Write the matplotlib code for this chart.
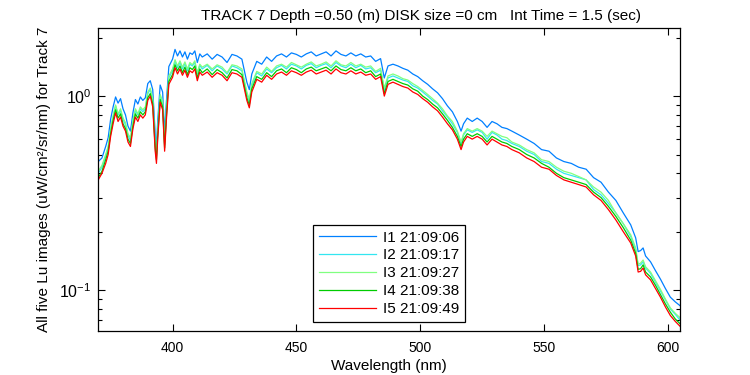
import matplotlib
matplotlib.use('Agg')
import matplotlib.pyplot as plt
from matplotlib.ticker import LogLocator, NullFormatter, FixedLocator

plt.rcParams['font.family'] = ['Liberation Sans', 'DejaVu Sans']
plt.rcParams['mathtext.fontset'] = 'custom'
plt.rcParams['mathtext.rm'] = 'Liberation Sans'
plt.rcParams['mathtext.it'] = 'Liberation Sans:italic'
plt.rcParams['mathtext.default'] = 'regular'

# wavelength (nm)
wavelength = [370, 371.5, 373, 374, 375, 376, 377, 378, 379, 380, 381, 382, 383, 384, 385, 386, 387, 388, 389,
              390, 391, 392, 393, 393.5, 394, 395, 396, 396.8, 397.5, 398.5, 400, 401, 402, 403, 404, 405, 406,
              407, 408, 409, 410, 411, 412, 414, 416, 418, 420, 422, 424, 426, 428, 430, 431, 432, 434, 436,
              438, 440, 442, 444, 446, 448, 450, 452, 454, 456, 458, 460, 462, 464, 466, 468, 470, 472, 474,
              476, 478, 480, 482, 484, 485.5, 487, 489, 491, 493, 495, 497, 499, 501, 503, 505, 507, 509, 511,
              513, 515, 516.5, 517.5, 519, 521, 523, 525, 527, 529, 531, 533, 535, 537, 540, 543, 546, 549,
              552, 555, 558, 561, 564, 567, 570, 573, 576, 579, 582, 585, 587, 588, 589, 590, 591, 593, 595,
              597, 599, 601, 603, 605]

lu_1 = [0.46, 0.48, 0.55, 0.61, 0.76, 0.88, 0.99, 0.92, 0.97, 0.86, 0.80, 0.70, 0.66, 0.82, 0.96, 0.91, 0.99, 0.95, 0.98,
        1.16, 1.20, 1.08, 0.64, 0.55, 0.74, 1.14, 1.05, 0.64, 0.93, 1.42, 1.55, 1.74, 1.61, 1.71, 1.59, 1.69, 1.55,
        1.67, 1.64, 1.71, 1.49, 1.65, 1.59, 1.65, 1.55, 1.64, 1.59, 1.49, 1.64, 1.61, 1.55, 1.18, 1.08, 1.30, 1.51, 1.46,
        1.59, 1.51, 1.61, 1.65, 1.59, 1.67, 1.64, 1.59, 1.65, 1.69, 1.61, 1.65, 1.69, 1.61, 1.71, 1.64, 1.61, 1.67, 1.61,
        1.65, 1.59, 1.61, 1.51, 1.56, 1.24, 1.43, 1.46, 1.43, 1.39, 1.36, 1.30, 1.26, 1.20, 1.15, 1.09, 1.04, 0.97, 0.89,
        0.83, 0.74, 0.66, 0.72, 0.77, 0.74, 0.77, 0.74, 0.69, 0.74, 0.72, 0.69, 0.68, 0.66, 0.63, 0.60, 0.57, 0.53,
        0.52, 0.48, 0.46, 0.45, 0.43, 0.42, 0.38, 0.36, 0.32, 0.29, 0.25, 0.217, 0.186, 0.158, 0.160, 0.165, 0.150, 0.140, 0.126,
        0.114, 0.102, 0.092, 0.087, 0.083]

lu_2 = [0.40, 0.43, 0.49, 0.54, 0.67, 0.78, 0.89, 0.80, 0.84, 0.76, 0.71, 0.63, 0.59, 0.73, 0.84, 0.80, 0.86, 0.83, 0.86,
        1.03, 1.08, 0.95, 0.56, 0.49, 0.65, 1.00, 0.92, 0.56, 0.81, 1.24, 1.35, 1.51, 1.40, 1.49, 1.38, 1.47, 1.35,
        1.46, 1.43, 1.49, 1.30, 1.44, 1.38, 1.44, 1.35, 1.43, 1.38, 1.30, 1.43, 1.40, 1.35, 1.03, 0.94, 1.13, 1.32, 1.27,
        1.38, 1.32, 1.40, 1.44, 1.38, 1.46, 1.43, 1.38, 1.44, 1.47, 1.40, 1.44, 1.47, 1.40, 1.49, 1.43, 1.40, 1.46, 1.40,
        1.44, 1.38, 1.40, 1.32, 1.36, 1.08, 1.24, 1.27, 1.24, 1.21, 1.19, 1.13, 1.10, 1.05, 1.00, 0.95, 0.91, 0.84, 0.78,
        0.72, 0.65, 0.57, 0.63, 0.67, 0.65, 0.67, 0.65, 0.60, 0.65, 0.63, 0.60, 0.59, 0.57, 0.55, 0.52, 0.50, 0.46,
        0.45, 0.42, 0.40, 0.39, 0.38, 0.37, 0.33, 0.31, 0.28, 0.25, 0.22, 0.189, 0.162, 0.134, 0.135, 0.140, 0.130, 0.122, 0.110,
        0.099, 0.089, 0.080, 0.075, 0.070]

lu_3 = [0.41, 0.44, 0.50, 0.55, 0.68, 0.79, 0.90, 0.81, 0.86, 0.77, 0.73, 0.64, 0.61, 0.75, 0.86, 0.81, 0.88, 0.85, 0.88,
        1.05, 1.10, 0.97, 0.57, 0.50, 0.66, 1.02, 0.94, 0.57, 0.83, 1.27, 1.38, 1.54, 1.43, 1.52, 1.41, 1.50, 1.38,
        1.49, 1.45, 1.52, 1.32, 1.46, 1.41, 1.46, 1.38, 1.45, 1.41, 1.32, 1.45, 1.43, 1.38, 1.05, 0.96, 1.16, 1.34, 1.30,
        1.41, 1.34, 1.43, 1.46, 1.41, 1.49, 1.45, 1.41, 1.46, 1.50, 1.43, 1.46, 1.50, 1.43, 1.52, 1.45, 1.43, 1.49, 1.43,
        1.46, 1.41, 1.43, 1.34, 1.39, 1.10, 1.27, 1.30, 1.27, 1.23, 1.21, 1.16, 1.12, 1.07, 1.02, 0.97, 0.92, 0.86, 0.79,
        0.74, 0.66, 0.58, 0.64, 0.68, 0.66, 0.68, 0.66, 0.62, 0.66, 0.64, 0.62, 0.61, 0.58, 0.56, 0.53, 0.51, 0.47,
        0.46, 0.43, 0.41, 0.40, 0.385, 0.37, 0.34, 0.32, 0.29, 0.25, 0.22, 0.193, 0.165, 0.136, 0.138, 0.143, 0.132, 0.124, 0.112,
        0.101, 0.090, 0.081, 0.076, 0.072]

lu_4 = [0.38, 0.41, 0.47, 0.52, 0.64, 0.75, 0.85, 0.77, 0.81, 0.72, 0.68, 0.60, 0.57, 0.70, 0.81, 0.77, 0.83, 0.80, 0.83,
        0.98, 1.03, 0.91, 0.54, 0.47, 0.62, 0.96, 0.88, 0.54, 0.78, 1.19, 1.29, 1.45, 1.35, 1.43, 1.32, 1.41, 1.29,
        1.40, 1.37, 1.43, 1.24, 1.38, 1.32, 1.38, 1.29, 1.37, 1.32, 1.24, 1.37, 1.35, 1.29, 0.98, 0.90, 1.09, 1.26, 1.22,
        1.32, 1.26, 1.35, 1.38, 1.32, 1.40, 1.37, 1.32, 1.38, 1.41, 1.35, 1.38, 1.41, 1.35, 1.43, 1.37, 1.35, 1.40, 1.35,
        1.38, 1.32, 1.35, 1.26, 1.30, 1.03, 1.19, 1.22, 1.19, 1.16, 1.14, 1.09, 1.06, 1.00, 0.96, 0.91, 0.87, 0.81, 0.75,
        0.69, 0.62, 0.55, 0.60, 0.64, 0.62, 0.64, 0.62, 0.58, 0.62, 0.60, 0.58, 0.57, 0.55, 0.53, 0.50, 0.48, 0.45,
        0.43, 0.40, 0.38, 0.37, 0.36, 0.35, 0.32, 0.30, 0.27, 0.24, 0.21, 0.181, 0.155, 0.128, 0.129, 0.135, 0.124, 0.117, 0.106,
        0.095, 0.085, 0.077, 0.071, 0.067]

lu_5 = [0.37, 0.40, 0.45, 0.50, 0.62, 0.72, 0.82, 0.74, 0.78, 0.70, 0.66, 0.58, 0.55, 0.68, 0.78, 0.74, 0.80, 0.77, 0.80,
        0.95, 1.00, 0.88, 0.52, 0.45, 0.60, 0.93, 0.85, 0.52, 0.75, 1.15, 1.25, 1.40, 1.30, 1.38, 1.28, 1.36, 1.25,
        1.35, 1.32, 1.38, 1.20, 1.33, 1.28, 1.33, 1.25, 1.32, 1.28, 1.20, 1.32, 1.30, 1.25, 0.95, 0.87, 1.05, 1.22, 1.18,
        1.28, 1.22, 1.30, 1.33, 1.28, 1.35, 1.32, 1.28, 1.33, 1.36, 1.30, 1.33, 1.36, 1.30, 1.38, 1.32, 1.30, 1.35, 1.30,
        1.33, 1.28, 1.30, 1.22, 1.26, 1.00, 1.15, 1.18, 1.15, 1.12, 1.10, 1.05, 1.02, 0.97, 0.93, 0.88, 0.84, 0.78, 0.72,
        0.67, 0.60, 0.53, 0.58, 0.62, 0.60, 0.62, 0.60, 0.56, 0.60, 0.58, 0.56, 0.55, 0.53, 0.51, 0.48, 0.46, 0.43,
        0.42, 0.39, 0.37, 0.36, 0.35, 0.34, 0.31, 0.29, 0.26, 0.23, 0.20, 0.175, 0.15, 0.124, 0.125, 0.13, 0.12, 0.113, 0.102,
        0.092, 0.082, 0.074, 0.069, 0.065]

series = [lu_1, lu_2, lu_3, lu_4, lu_5]
labels = ['I1 21:09:06', 'I2 21:09:17', 'I3 21:09:27', 'I4 21:09:38', 'I5 21:09:49']
colors = ['#0080ff', '#33e6f0', '#80ff80', '#00cc00', '#ff0000']

fig = plt.figure(figsize=(7.5, 3.75), dpi=100)
ax = fig.add_axes([0.131, 0.117, 0.776, 0.808])

for vals, lab, col in zip(series, labels, colors):
    ax.plot(wavelength, vals, color=col, lw=0.9, label=lab)

ax.set_yscale('log')
ax.set_xlim(370, 605)
ax.set_ylim(0.0615, 2.24)
ax.xaxis.set_major_locator(FixedLocator([400, 450, 500, 550, 600]))
ax.yaxis.set_major_locator(LogLocator(base=10))
ax.yaxis.set_minor_locator(LogLocator(base=10, subs=range(2, 10)))
ax.yaxis.set_minor_formatter(NullFormatter())
ax.tick_params(which='both', direction='in', top=True, right=True, width=0.8)
ax.tick_params(which='major', length=5)
ax.tick_params(which='minor', length=3)
ax.tick_params(axis='x', pad=7, labelsize=10)
ax.tick_params(axis='y', pad=5, labelsize=11.5)
for sp in ax.spines.values():
    sp.set_linewidth(0.9)

ax.set_xlabel('Wavelength (nm)', fontsize=11, labelpad=3)
ax.set_ylabel('All five Lu images (uW/cm²/sr/nm) for Track 7', fontsize=11)
ax.yaxis.set_label_coords(-0.082, 0.5)
fig.text(0.561, 0.957, 'TRACK 7 Depth =0.50 (m) DISK size =0 cm   Int Time = 1.5 (sec)',
         ha='center', va='center', fontsize=11)

leg = ax.legend(loc='lower left', bbox_to_anchor=(0.369, 0.03), borderaxespad=0,
                fontsize=11, handlelength=3.7, handletextpad=0.45, labelspacing=0.25,
                borderpad=0.4, fancybox=False, framealpha=1, edgecolor='black')
leg.get_frame().set_linewidth(0.9)

plt.savefig('out.png', dpi=100)
